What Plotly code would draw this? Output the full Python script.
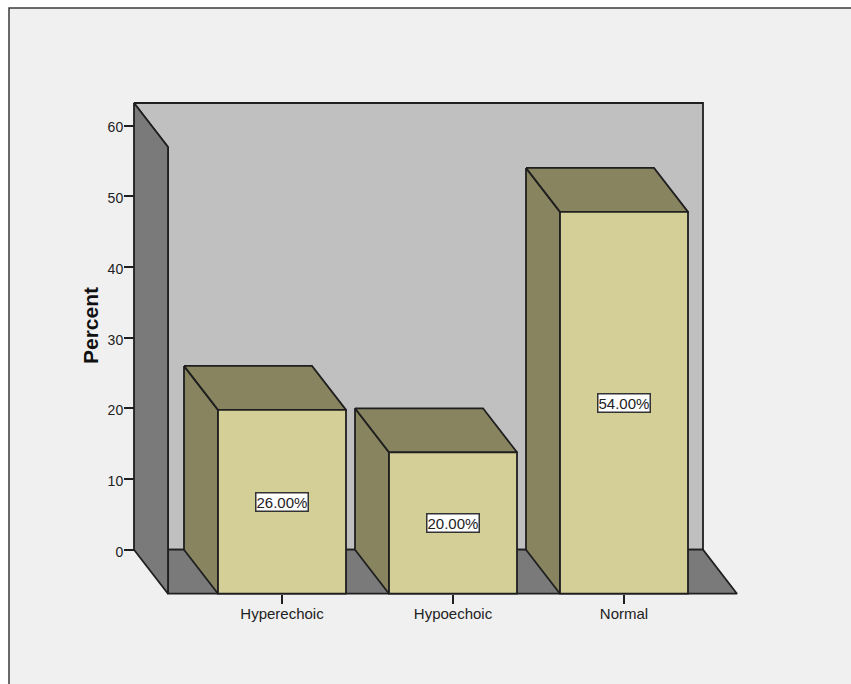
import plotly.graph_objects as go

# Chart data
categories = ["Hyperechoic", "Hypoechoic", "Normal"]
percent = [26.0, 20.0, 54.0]
value_labels = ["26.00%", "20.00%", "54.00%"]
y_ticks = [0, 10, 20, 30, 40, 50, 60]

W, H = 851, 684

# Scales of the drawing: one category step and one percent unit, in pixels
STEP_PX = 171.0
UNIT_PX = 7.07
ORIGIN_X_PX = 282.0
ORIGIN_Y_PX = 549.7

# Oblique depth of the pseudo-3D box, in axis units
DEPTH_X = 34.0 / STEP_PX
DEPTH_Y = 44.0 / UNIT_PX
BAR_W = 128.0 / STEP_PX

x_range = [-ORIGIN_X_PX / STEP_PX, (W - ORIGIN_X_PX) / STEP_PX]
y_range = [(ORIGIN_Y_PX - H) / UNIT_PX, ORIGIN_Y_PX / UNIT_PX]

# Extents of the back wall
BACK_L = (134.0 - ORIGIN_X_PX) / STEP_PX
BACK_R = (703.0 - ORIGIN_X_PX) / STEP_PX
BACK_TOP = (ORIGIN_Y_PX - 103.0) / UNIT_PX

EDGE = "#1f1f1f"
EDGE_W = 1.8
WALL = "#c0c0c0"
SIDE_WALL = "#7a7a7a"
BAR_FRONT = "#d3cf96"
BAR_SHADE = "#87845f"
PAGE = "#f0f0f0"


def face(xs, ys, color):
    """One filled polygon of the 3D box."""
    return go.Scatter(
        x=xs + xs[:1], y=ys + ys[:1], mode="lines", fill="toself", fillcolor=color,
        line=dict(color=EDGE, width=EDGE_W), hoverinfo="skip", showlegend=False,
    )


fig = go.Figure()

inner_left = BACK_L + DEPTH_X

# Back wall
fig.add_trace(face(
    [inner_left, BACK_L, BACK_R, BACK_R, inner_left],
    [BACK_TOP - DEPTH_Y, BACK_TOP, BACK_TOP, 0, 0], WALL))
# Floor
fig.add_trace(face(
    [inner_left, BACK_R, BACK_R + DEPTH_X, inner_left],
    [0, 0, -DEPTH_Y, -DEPTH_Y], SIDE_WALL))
# Left wall
fig.add_trace(face(
    [BACK_L, inner_left, inner_left, BACK_L],
    [BACK_TOP, BACK_TOP - DEPTH_Y, -DEPTH_Y, 0], SIDE_WALL))

# Bars: side, top and front faces
for i, v in enumerate(percent):
    left = i - BAR_W / 2
    right = i + BAR_W / 2
    top = v - DEPTH_Y
    bottom = -DEPTH_Y
    fig.add_trace(face(
        [left - DEPTH_X, left, left, left - DEPTH_X],
        [v, top, bottom, 0], BAR_SHADE))
    fig.add_trace(face(
        [left - DEPTH_X, right - DEPTH_X, right, left],
        [v, v, top, top], BAR_SHADE))
    fig.add_trace(face(
        [left, right, right, left],
        [top, top, bottom, bottom], BAR_FRONT))

# Value labels centred on the front faces
annotations = [
    dict(
        x=i, y=(v - 2 * DEPTH_Y) / 2, xref="x", yref="y", text=label, showarrow=False,
        bgcolor="#ffffff", bordercolor="#333333", borderwidth=1.5, borderpad=0,
        font=dict(family="Liberation Sans", size=15, color="#222222"),
    )
    for i, (v, label) in enumerate(zip(percent, value_labels))
]

# Axis title placed beside the left wall
annotations.append(dict(
    x=90 / W, y=1 - 326 / H, xref="paper", yref="paper", text="<b>Percent</b>",
    xanchor="center", yanchor="middle",
    textangle=-90, showarrow=False,
    font=dict(family="Liberation Sans", size=21, color="#111111"),
))

fig.update_layout(
    width=W, height=H,
    margin=dict(l=0, r=0, t=0, b=0, pad=0),
    paper_bgcolor="#ffffff",
    plot_bgcolor="rgba(0,0,0,0)",
    showlegend=False,
    annotations=annotations,
    font=dict(family="Liberation Sans", color="#222222"),
    # Chart frame: open on the right and bottom
    shapes=[
        dict(type="rect", xref="paper", yref="paper", layer="below",
             x0=9 / W, x1=1.01, y0=-0.01, y1=1 - 8 / H,
             fillcolor=PAGE, line=dict(color="#3a3a3a", width=1.5)),
    ],
    xaxis=dict(
        range=x_range, domain=[0, 1], anchor="free", position=(H - 594) / H,
        tickmode="array", tickvals=list(range(len(categories))), ticktext=categories,
        ticks="outside", ticklen=9, tickwidth=1.5, tickcolor=EDGE,
        ticklabelstandoff=-3,
        tickfont=dict(size=15, family="Liberation Sans", color="#222222"),
        showgrid=False, zeroline=False, showline=False, fixedrange=True,
    ),
    yaxis=dict(
        range=y_range, domain=[0, 1], anchor="free", position=134 / W,
        tickmode="array", tickvals=y_ticks,
        ticks="outside", ticklen=10, tickwidth=1.5, tickcolor=EDGE,
        ticklabelshift=2, ticklabelstandoff=-2,
        tickfont=dict(size=14, family="Liberation Sans", color="#222222"),
        showgrid=False, zeroline=False, showline=False, fixedrange=True,
    ),
)

fig.write_html("out.html", config={"displayModeBar": False})
